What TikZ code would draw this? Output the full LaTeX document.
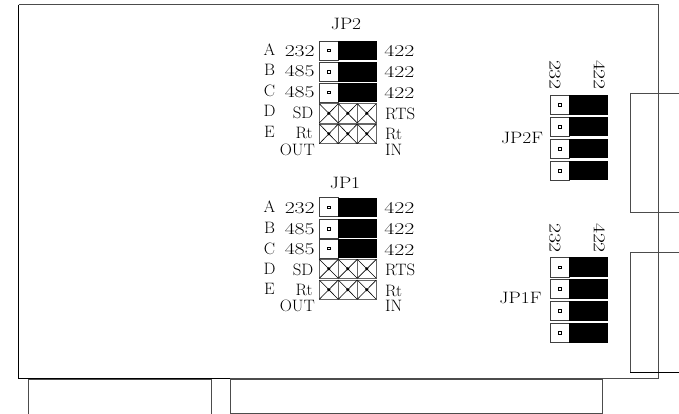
\documentclass[tikz,border=0pt]{standalone}
\usepackage{fontspec}
\newcommand{\lf}{\fontsize{16.5}{16.5}\selectfont\addfontfeatures{FakeBold=0.5}}
\tikzset{
  x=1pt,y=-1pt,
  lab/.style={inner sep=0pt,font=\lf,xscale=1.02,transform shape},
  dig/.style={inner sep=0pt,font=\lf,xscale=1.32,transform shape},
  jp/.style={inner sep=0pt,font=\lf,xscale=1.18,transform shape},
  rdig/.style={inner sep=0pt,font=\lf,yscale=1.32,rotate=-90,transform shape},
  pin/.style={draw=black!75,line width=0.8pt,fill=white},
  blk/.style={fill=black},
  ln/.style={draw=black!70,line width=0.9pt},
  dot/.style={draw=black,line width=0.7pt,fill=white}
}
\newcommand{\jumper}[3]{% x-left, ytop, ybot
  \draw[pin] (#1,#2) rectangle (#1+19,#3);
  \fill[blk] (#1+19,#2) rectangle (#1+57.5,#3);
  \draw[dot] (#1+8.4,{(#2+#3)/2-1.2}) rectangle (#1+10.6,{(#2+#3)/2+1.2});
}
\newcommand{\xcell}[3]{%
  \draw[draw=black!60,line width=0.9pt] (#1,#2) rectangle (#1+19,#3);
  \draw[black,line width=0.6pt] (#1,#2) -- (#1+19,#3) (#1+19,#2) -- (#1,#3);
  \fill (#1+9.5,{(#2+#3)/2}) circle (1.7);
}
\newcommand{\xrow}[3]{\xcell{#1}{#2}{#3}\xcell{#1+19}{#2}{#3}\xcell{#1+38}{#2}{#3}}
\begin{document}
\begin{tikzpicture}
\useasboundingbox (0,0) rectangle (679,414);
\fill[white] (0,0) rectangle (679,414);
% board
\draw[ln] (18.5,4.7) -- (658,4.7) -- (658,378.5);
\draw[black,line width=0.9pt] (18.5,4.7) -- (18.5,378.5) -- (230,378.5);
\draw[ln] (230,378.5) -- (658,378.5);
% connectors
\draw[ln] (630,93) -- (679,93) (630,93) -- (630,212.3) -- (679,212.3);
\draw[ln] (630,252.7) -- (679,252.7) (630,252.7) -- (630,372);
\draw[black,line width=0.8pt] (630,372) -- (679,372);
\draw[ln] (28,414) -- (28,379) -- (211.7,379) -- (211.7,414);
\draw[ln] (230.7,414) -- (230.7,379) -- (602,379) -- (602,413) -- (230.7,413);
% JP2
\node[jp] (jp2) at (346,24) {JP2};
\jumper{319.3}{41}{60}
\jumper{319.3}{62.3}{81.7}
\jumper{319.3}{83}{102}
\xrow{319.3}{103.7}{123}
\xrow{319.3}{124}{143.7}
\node[lab] at (269.5,50) {A};
\node[lab] at (269.5,70) {B};
\node[lab] at (269.5,91) {C};
\node[lab] at (269.5,111) {D};
\node[lab] at (269.5,132) {E};
\node[dig,anchor=east] at (315,51) {232};
\node[dig,anchor=east] at (315,71) {485};
\node[dig,anchor=east] at (315,92) {485};
\node[lab,anchor=east] at (313.5,113) {SD};
\node[lab,anchor=east] at (312.7,133) {Rt};
\node[lab,anchor=east] at (315,150) {OUT};
\node[dig,anchor=west] at (384,51) {422};
\node[dig,anchor=west] at (384,72) {422};
\node[dig,anchor=west] at (384,93) {422};
\node[lab,anchor=west] at (385,114) {RTS};
\node[lab,anchor=west] at (385,134) {Rt};
\node[lab,anchor=west] at (385,150) {IN};
% JP1
\node[jp] (jp1) at (345,183) {JP1};
\jumper{319.3}{197.7}{216.7}
\jumper{319.3}{219.3}{238.3}
\jumper{319.3}{239}{258}
\xrow{319.3}{259.3}{278.3}
\xrow{319.3}{280}{299.3}
\node[lab] at (269.5,207) {A};
\node[lab] at (269.5,228) {B};
\node[lab] at (269.5,249) {C};
\node[lab] at (269.5,269) {D};
\node[lab] at (269.5,289) {E};
\node[dig,anchor=east] at (315,208) {232};
\node[dig,anchor=east] at (315,229) {485};
\node[dig,anchor=east] at (315,249) {485};
\node[lab,anchor=east] at (313.5,270) {SD};
\node[lab,anchor=east] at (312.7,290) {Rt};
\node[lab,anchor=east] at (315,306) {OUT};
\node[dig,anchor=west] at (384,208) {422};
\node[dig,anchor=west] at (384,229) {422};
\node[dig,anchor=west] at (384,250) {422};
\node[lab,anchor=west] at (385,270) {RTS};
\node[lab,anchor=west] at (385,291) {Rt};
\node[lab,anchor=west] at (385,306) {IN};
% JP2F
\jumper{550.3}{95.3}{114.7}
\jumper{550.3}{117.3}{136.3}
\jumper{550.3}{139.3}{158.3}
\jumper{550.3}{161.3}{180.3}
\node[jp,anchor=east] at (543.3,138) {JP2F};
\node[rdig] at (555,75) {232};
\node[rdig] at (599.5,75) {422};
% JP1F
\jumper{550.3}{257.3}{277}
\jumper{550.3}{279.3}{298.7}
\jumper{550.3}{301}{320.7}
\jumper{550.3}{323}{342.7}
\node[jp,anchor=east] at (541.7,298) {JP1F};
\node[rdig] at (555,238) {232};
\node[rdig] at (599.5,238) {422};
\end{tikzpicture}
\end{document}
